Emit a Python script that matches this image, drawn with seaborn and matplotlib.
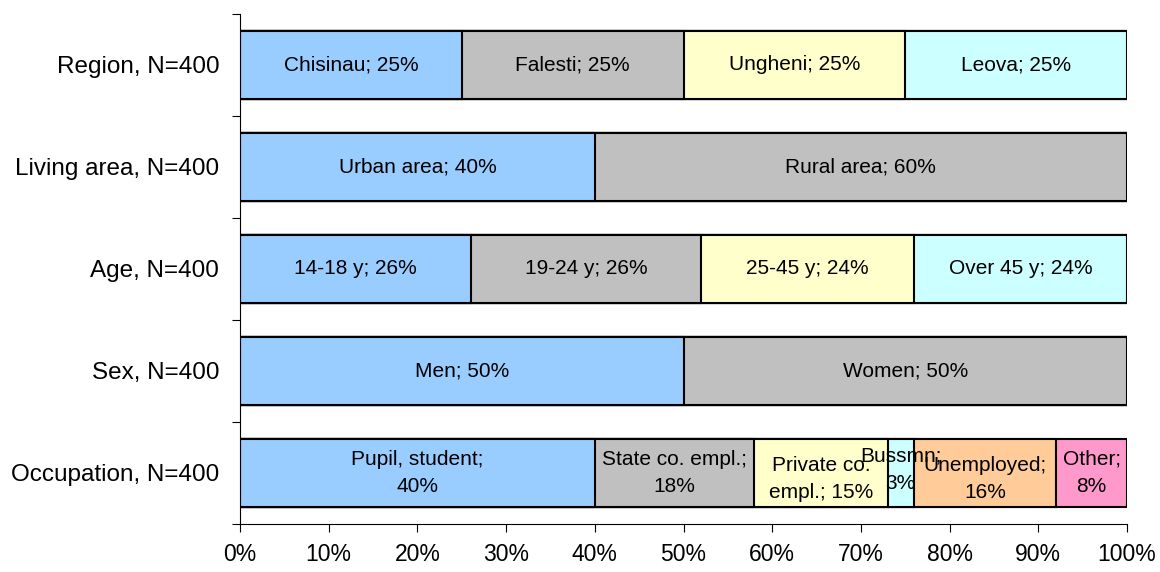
import numpy as np
import pandas as pd
import seaborn as sns
import matplotlib.pyplot as plt

# Rows (top to bottom) and their segments
rows = ["Region, N=400", "Living area, N=400", "Age, N=400", "Sex, N=400", "Occupation, N=400"]

region_labels = ["Chisinau; 25%", "Falesti; 25%", "Ungheni; 25%", "Leova; 25%"]
region_values = [25, 25, 25, 25]

area_labels = ["Urban area; 40%", "Rural area; 60%"]
area_values = [40, 60]

age_labels = ["14-18 y; 26%", "19-24 y; 26%", "25-45 y; 24%", "Over 45 y; 24%"]
age_values = [26, 26, 24, 24]

sex_labels = ["Men; 50%", "Women; 50%"]
sex_values = [50, 50]

occ_labels = ["Pupil, student;\n40%", "State co. empl.;\n18%", "Private co.\nempl.; 15%",
              "Bussmn;\n3%", "Unemployed;\n16%", "Other;\n8%"]
occ_values = [40, 18, 15, 3, 16, 8]

xticks = [0, 10, 20, 30, 40, 50, 60, 70, 80, 90, 100]

colors = ["#99CCFF", "#C0C0C0", "#FFFFCC", "#CCFFFF", "#FFCC99", "#FF99CC"]

all_values = [region_values, area_values, age_values, sex_values, occ_values]
all_labels = [region_labels, area_labels, age_labels, sex_labels, occ_labels]

# long table: one record per row and segment index, cumulative end of segment
recs = []
nseg = max(len(v) for v in all_values)
for row, vals in zip(rows, all_values):
    cum = np.cumsum(vals)
    for k in range(nseg):
        recs.append({"row": row, "seg": k, "end": cum[min(k, len(vals) - 1)]})
df = pd.DataFrame(recs)

sns.set_style("white")
plt.rcParams["font.family"] = ["Liberation Sans", "DejaVu Sans"]

fig, ax = plt.subplots(figsize=(11.6, 5.72), dpi=100)
fig.subplots_adjust(left=240 / 1160, right=1127 / 1160, top=1 - 14 / 572, bottom=1 - 524 / 572)

# stacked bars: draw cumulative ends from last segment to first
for k in reversed(range(nseg)):
    sns.barplot(data=df[df["seg"] == k], x="end", y="row", order=rows, orient="h",
                color=colors[k], saturation=1, edgecolor="black", linewidth=1.5,
                width=0.667, ax=ax)

for i, (vals, labs) in enumerate(zip(all_values, all_labels)):
    cum = np.cumsum(vals)
    for v, c, lab in zip(vals, cum, labs):
        dy = 0
        if lab.startswith("Private") or lab.startswith("Unemployed"):
            dy = 0.06
        elif lab.startswith("Bussmn"):
            dy = -0.03
        ax.text(c - v / 2, i + dy, lab, ha="center", va="center", fontsize=15,
                linespacing=1.55, color="black")

ax.set_xlim(0, 100)
ax.set_ylim(len(rows) - 0.5, -0.5)
ax.set_xticks(xticks)
ax.set_xticklabels([f"{t}%" for t in xticks], fontsize=16.5, color="black")
ax.set_yticks(np.arange(-0.5, len(rows)), labels=[""] * (len(rows) + 1))
ax.set_yticks(np.arange(len(rows)), labels=rows, minor=True)
ax.tick_params(axis="y", which="minor", length=0, pad=15, labelsize=17.5, labelcolor="black")
ax.tick_params(axis="y", which="major", length=6, width=0.8, color="black", direction="out", left=True)
ax.tick_params(axis="x", length=6, width=0.8, color="black", direction="out", bottom=True, pad=8)
ax.set_xlabel("")
ax.set_ylabel("")

sns.despine(ax=ax, top=True, right=True)
for s in ["left", "bottom"]:
    ax.spines[s].set_color("black")
    ax.spines[s].set_linewidth(0.8)

fig.savefig("out.png", dpi=100)
